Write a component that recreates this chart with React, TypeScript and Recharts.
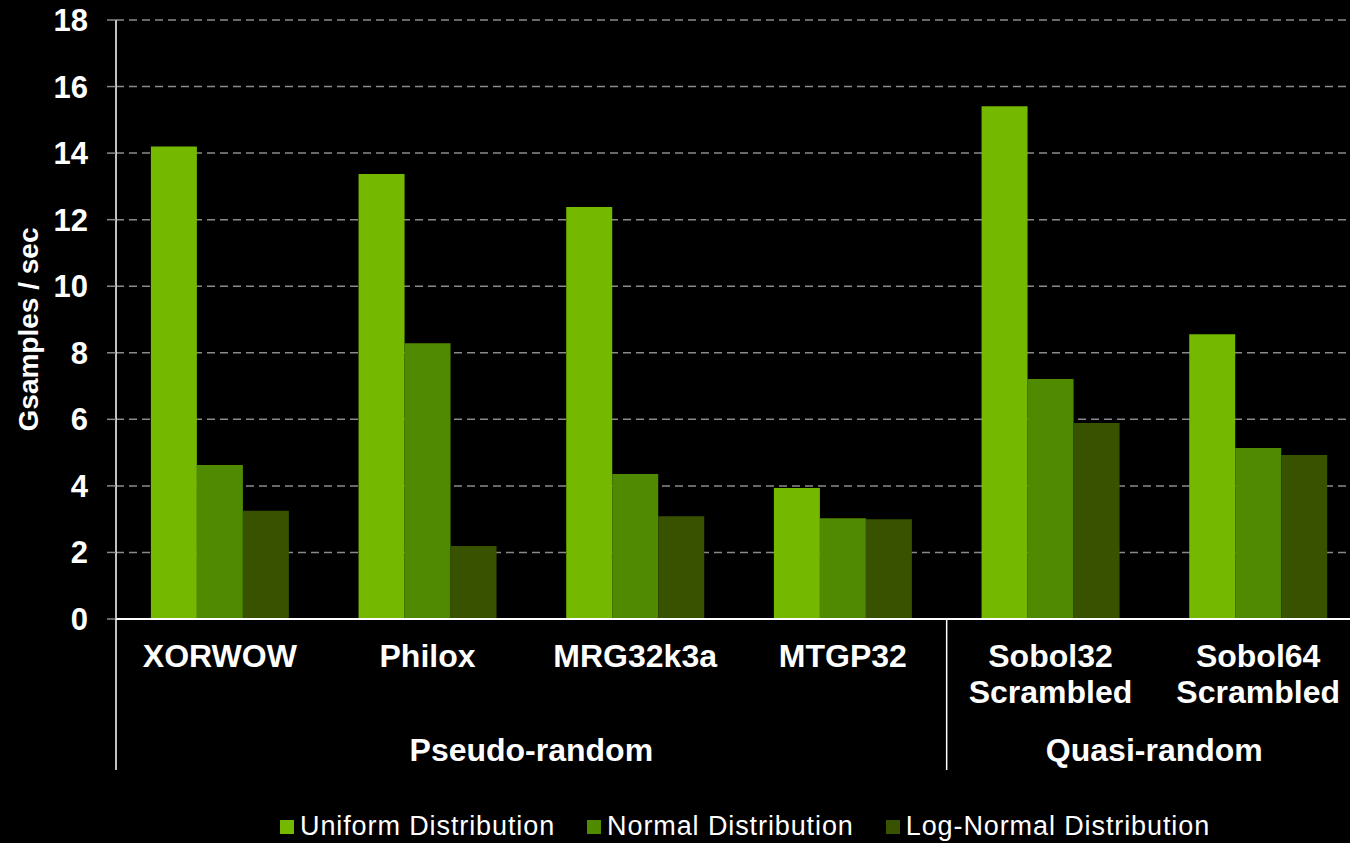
import React from 'react';
import { BarChart, Bar, XAxis, YAxis, CartesianGrid, Legend } from 'recharts';

// categories and series values (Gsamples / sec)
const categories = ['XORWOW', 'Philox', 'MRG32k3a', 'MTGP32', 'Sobol32 Scrambled', 'Sobol64 Scrambled'];
const uniform = [14.2, 13.37, 12.38, 3.94, 15.41, 8.56];
const normal = [4.63, 8.29, 4.36, 3.03, 7.21, 5.14];
const logNormal = [3.25, 2.19, 3.09, 3.0, 5.89, 4.93];
const yTicks = [0, 2, 4, 6, 8, 10, 12, 14, 16, 18];

// generator groups, by category index
const groups = [
  { label: 'Pseudo-random', start: 0, end: 3 },
  { label: 'Quasi-random', start: 4, end: 5 },
];

const series = [
  { key: 'uniform', name: 'Uniform Distribution', color: '#74b800' },
  { key: 'normal', name: 'Normal Distribution', color: '#508a00' },
  { key: 'logNormal', name: 'Log-Normal Distribution', color: '#385200' },
];

const data = categories.map((name, i) => ({
  name,
  uniform: uniform[i],
  normal: normal[i],
  logNormal: logNormal[i],
}));

const W = 1350;
const H = 843;
const Y_AXIS_W = 116;
const RIGHT = -12; // plot runs a bit past the right edge
const band = (W - Y_AXIS_W - RIGHT) / categories.length;
const font = '"Liberation Sans", Arial, sans-serif';

function CategoryTick(props: any) {
  const { x, y, payload, index } = props;
  const lines = String(payload.value).split(' ');
  const group = groups.find((g) => g.start === index);
  return (
    <g>
      {lines.map((l: string, i: number) => (
        <text key={i} x={x} y={y + 37 + i * 36} textAnchor="middle" dominantBaseline="central"
          fill="#fff" fontFamily={font} fontWeight="bold" fontSize={32}>
          {l}
        </text>
      ))}
      {group && (
        <>
          <line x1={x - band / 2} x2={x - band / 2} y1={y} y2={y + 151} stroke="#fff" strokeWidth={1.5} />
          <text x={x + ((group.end - group.start) / 2) * band} y={y + 131} textAnchor="middle"
            dominantBaseline="central" fill="#fff" fontFamily={font} fontWeight="bold" fontSize={32}>
            {group.label}
          </text>
        </>
      )}
    </g>
  );
}

function LegendContent() {
  return (
    <div style={{ display: 'flex', gap: 32, fontFamily: font, fontSize: 27, letterSpacing: 0.9, color: '#fff' }}>
      {series.map((s) => (
        <div key={s.key} style={{ display: 'flex', alignItems: 'center' }}>
          <span style={{ width: 14, height: 14, background: s.color, marginRight: 6, display: 'inline-block' }} />
          <span>{s.name}</span>
        </div>
      ))}
    </div>
  );
}

export default function App() {
  return (
    <div style={{ position: 'absolute', left: 0, top: 0, width: W, height: H, background: '#000', overflow: 'hidden' }}>
      <BarChart width={W} height={H} data={data} margin={{ top: 20, right: RIGHT, left: 0, bottom: 0 }}
        barCategoryGap="16.8%" barGap={0}>
        <CartesianGrid vertical={false} stroke="#8a8a8a" strokeDasharray="8 5" strokeWidth={1.5} />
        <YAxis
          width={Y_AXIS_W}
          domain={[0, 18]}
          ticks={yTicks}
          interval={0}
          axisLine={{ stroke: '#fff', strokeWidth: 1.5 }}
          tickLine={{ stroke: '#8a8a8a', strokeWidth: 1.5 }}
          tickSize={9}
          tickMargin={19}
          tick={{ fill: '#fff', fontFamily: font, fontWeight: 'bold', fontSize: 31 }}
          label={{
            value: 'Gsamples / sec',
            content: ({ viewBox }: any) => (
              <text transform={`translate(28, ${viewBox.y + viewBox.height / 2 + 10}) rotate(-90)`}
                textAnchor="middle" dominantBaseline="central" fill="#fff"
                fontFamily={font} fontWeight="bold" fontSize={28}>
                Gsamples / sec
              </text>
            ),
          }}
        />
        <XAxis
          dataKey="name"
          height={224}
          interval={0}
          tickLine={false}
          tickSize={0}
          tickMargin={0}
          axisLine={{ stroke: '#fff', strokeWidth: 2 }}
          tick={<CategoryTick />}
        />
        <Legend layout="horizontal" verticalAlign="middle" align="center" content={<LegendContent />}
          wrapperStyle={{ position: 'absolute', top: 811, left: 280, width: 1060 }} />
        {series.map((s) => (
          <Bar key={s.key} dataKey={s.key} name={s.name} fill={s.color} isAnimationActive={false} />
        ))}
      </BarChart>
    </div>
  );
}
